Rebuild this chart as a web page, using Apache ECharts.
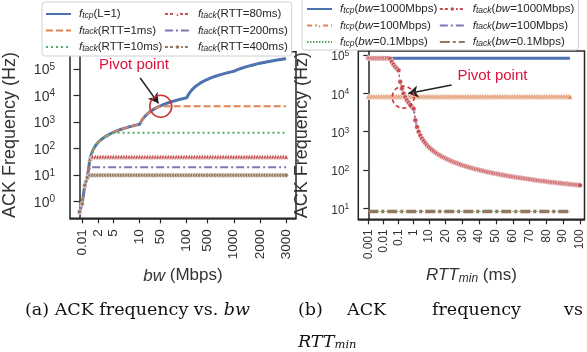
<!DOCTYPE html>
<html><head><meta charset="utf-8">
<script src="https://cdn.jsdelivr.net/npm/echarts@6/dist/echarts.min.js"></script>
<style>html,body{margin:0;padding:0;background:#fff}#c{width:587px;height:352px}</style>
</head><body><div id="c"></div>
<script>
// ---------- (a) ACK frequency vs bw ----------
const bwCats = [0.005,0.01,0.05,0.1,0.5,1,1.5,2,2.5,3,3.5,4,4.5,5,5.5,6,6.5,7,7.5,8,8.5,9,9.5,10,
  15,20,25,30,35,40,45,50,55,60,65,70,75,80,85,90,95,100,
  150,200,250,300,350,400,450,500,550,600,650,700,750,800,850,900,950,1000,
  1100,1200,1300,1400,1500,1600,1700,1800,1900,2000,2100,2200,2300,2400,2500,2600,2700,2800,2900,3000];
const bwTicks = [0.01,2,5,10,50,100,500,1000,2000,3000];
const tcpL1 = [0.42,0.83,4.2,8.3,42,83,125,167,208,250,292,333,375,417,458,500,542,583,625,667,708,750,792,833,
  1250,1667,2083,2500,2917,3333,3750,4167,4583,5000,5417,5833,6250,6667,7083,7500,7917,8333,
  12500,16667,20833,25000,29167,33333,37500,41667,45833,50000,54167,58333,62500,66667,70833,75000,79167,83333,
  91667,100000,108333,116667,125000,133333,141667,150000,158333,166667,175000,183333,191667,200000,208333,216667,225000,233333,241667,250000];
const tackRtt1 = [0.42,0.83,4.2,8.3,42,83,125,167,208,250,292,333,375,417,458,500,542,583,625,667,708,750,792,833,
  1250,1667,2083,2500,2917,3333,3750,4000,4000,4000,4000,4000,4000,4000,4000,4000,4000,4000,
  4000,4000,4000,4000,4000,4000,4000,4000,4000,4000,4000,4000,4000,4000,4000,4000,4000,4000,
  4000,4000,4000,4000,4000,4000,4000,4000,4000,4000,4000,4000,4000,4000,4000,4000,4000,4000,4000,4000];
const tackRtt10 = [0.42,0.83,4.2,8.3,42,83,125,167,208,250,292,333,375,400,400,400,400,400,400,400,400,400,400,400,
  400,400,400,400,400,400,400,400,400,400,400,400,400,400,400,400,400,400,
  400,400,400,400,400,400,400,400,400,400,400,400,400,400,400,400,400,400,
  400,400,400,400,400,400,400,400,400,400,400,400,400,400,400,400,400,400,400,400];
const tackRtt80 = [0.42,0.83,4.2,8.3,42,50,50,50,50,50,50,50,50,50,50,50,50,50,50,50,50,50,50,50,
  50,50,50,50,50,50,50,50,50,50,50,50,50,50,50,50,50,50,
  50,50,50,50,50,50,50,50,50,50,50,50,50,50,50,50,50,50,
  50,50,50,50,50,50,50,50,50,50,50,50,50,50,50,50,50,50,50,50];
const tackRtt200 = [0.42,0.83,4.2,8.3,20,20,20,20,20,20,20,20,20,20,20,20,20,20,20,20,20,20,20,20,
  20,20,20,20,20,20,20,20,20,20,20,20,20,20,20,20,20,20,
  20,20,20,20,20,20,20,20,20,20,20,20,20,20,20,20,20,20,
  20,20,20,20,20,20,20,20,20,20,20,20,20,20,20,20,20,20,20,20];
const tackRtt400 = [0.42,0.83,4.2,8.3,10,10,10,10,10,10,10,10,10,10,10,10,10,10,10,10,10,10,10,10,
  10,10,10,10,10,10,10,10,10,10,10,10,10,10,10,10,10,10,
  10,10,10,10,10,10,10,10,10,10,10,10,10,10,10,10,10,10,
  10,10,10,10,10,10,10,10,10,10,10,10,10,10,10,10,10,10,10,10];

// ---------- (b) ACK frequency vs RTT_min ----------
const rttCats = [0.001,0.002,0.003,0.004,0.005,0.006,0.007,0.008,0.009,
  0.01,0.02,0.03,0.04,0.05,0.06,0.07,0.08,0.09,
  0.1,0.2,0.3,0.4,0.5,0.6,0.7,0.8,0.9,
  1,2,3,4,5,6,7,8,9,
  10,11,12,13,14,15,16,17,18,19,20,21,22,23,24,25,26,27,28,29,30,31,32,33,34,35,36,37,38,39,
  40,41,42,43,44,45,46,47,48,49,50,51,52,53,54,55,56,57,58,59,60,61,62,63,64,65,66,67,68,69,
  70,71,72,73,74,75,76,77,78,79,80,81,82,83,84,85,86,87,88,89,90,91,92,93,94,95,96,97,98,99,100];
const rttTicks = [0.001,0.01,0.1,1,10,20,30,40,50,60,70,80,90,100];
const tcpBw1000 = [83333,83333,83333,83333,83333,83333,83333,83333,83333,83333,83333,83333,83333,83333,83333,83333,83333,83333,
  83333,83333,83333,83333,83333,83333,83333,83333,83333,83333,83333,83333,83333,83333,83333,83333,83333,83333,
  83333,83333,83333,83333,83333,83333,83333,83333,83333,83333,83333,83333,83333,83333,83333,83333,83333,83333,83333,83333,83333,83333,83333,83333,
  83333,83333,83333,83333,83333,83333,83333,83333,83333,83333,83333,83333,83333,83333,83333,83333,83333,83333,83333,83333,83333,83333,83333,83333,83333,83333,83333,83333,83333,83333,
  83333,83333,83333,83333,83333,83333,83333,83333,83333,83333,83333,83333,83333,83333,83333,83333,83333,83333,83333,83333,83333,83333,83333,83333,83333,83333,83333,83333,83333,83333,83333];
const tcpBw100 = [8333,8333,8333,8333,8333,8333,8333,8333,8333,8333,8333,8333,8333,8333,8333,8333,8333,8333,
  8333,8333,8333,8333,8333,8333,8333,8333,8333,8333,8333,8333,8333,8333,8333,8333,8333,8333,
  8333,8333,8333,8333,8333,8333,8333,8333,8333,8333,8333,8333,8333,8333,8333,8333,8333,8333,8333,8333,8333,8333,8333,8333,
  8333,8333,8333,8333,8333,8333,8333,8333,8333,8333,8333,8333,8333,8333,8333,8333,8333,8333,8333,8333,8333,8333,8333,8333,8333,8333,8333,8333,8333,8333,
  8333,8333,8333,8333,8333,8333,8333,8333,8333,8333,8333,8333,8333,8333,8333,8333,8333,8333,8333,8333,8333,8333,8333,8333,8333,8333,8333,8333,8333,8333,8333];
const tcpBw01 = [8.3,8.3,8.3,8.3,8.3,8.3,8.3,8.3,8.3,8.3,8.3,8.3,8.3,8.3,8.3,8.3,8.3,8.3,
  8.3,8.3,8.3,8.3,8.3,8.3,8.3,8.3,8.3,8.3,8.3,8.3,8.3,8.3,8.3,8.3,8.3,8.3,
  8.3,8.3,8.3,8.3,8.3,8.3,8.3,8.3,8.3,8.3,8.3,8.3,8.3,8.3,8.3,8.3,8.3,8.3,8.3,8.3,8.3,8.3,8.3,8.3,
  8.3,8.3,8.3,8.3,8.3,8.3,8.3,8.3,8.3,8.3,8.3,8.3,8.3,8.3,8.3,8.3,8.3,8.3,8.3,8.3,8.3,8.3,8.3,8.3,8.3,8.3,8.3,8.3,8.3,8.3,
  8.3,8.3,8.3,8.3,8.3,8.3,8.3,8.3,8.3,8.3,8.3,8.3,8.3,8.3,8.3,8.3,8.3,8.3,8.3,8.3,8.3,8.3,8.3,8.3,8.3,8.3,8.3,8.3,8.3,8.3,8.3];
const tackBw1000 = [83333,83333,83333,83333,83333,83333,83333,83333,83333,
  83333,83333,83333,83333,80000,66667,57143,50000,44444,
  40000,20000,13333,10000,8000,6667,5714,5000,4444,
  4000,2000,1333,1000,800,667,571,500,444,
  400,364,333,308,286,267,250,235,222,211,200,190,182,174,167,160,154,148,143,138,
  133,129,125,121,118,114,111,108,105,103,100,97.6,95.2,93,90.9,88.9,87,85.1,83.3,81.6,
  80,78.4,76.9,75.5,74.1,72.7,71.4,70.2,69,67.8,66.7,65.6,64.5,63.5,62.5,61.5,60.6,59.7,58.8,58,
  57.1,56.3,55.6,54.8,54.1,53.3,52.6,51.9,51.3,50.6,50,49.4,48.8,48.2,47.6,47.1,46.5,46,45.5,44.9,
  44.4,44,43.5,43,42.6,42.1,41.7,41.2,40.8,40.4,40];
const tackBw100 = [8333,8333,8333,8333,8333,8333,8333,8333,8333,
  8333,8333,8333,8333,8333,8333,8333,8333,8333,
  8333,8333,8333,8333,8000,6667,5714,5000,4444,
  4000,2000,1333,1000,800,667,571,500,444,
  400,364,333,308,286,267,250,235,222,211,200,190,182,174,167,160,154,148,143,138,
  133,129,125,121,118,114,111,108,105,103,100,97.6,95.2,93,90.9,88.9,87,85.1,83.3,81.6,
  80,78.4,76.9,75.5,74.1,72.7,71.4,70.2,69,67.8,66.7,65.6,64.5,63.5,62.5,61.5,60.6,59.7,58.8,58,
  57.1,56.3,55.6,54.8,54.1,53.3,52.6,51.9,51.3,50.6,50,49.4,48.8,48.2,47.6,47.1,46.5,46,45.5,44.9,
  44.4,44,43.5,43,42.6,42.1,41.7,41.2,40.8,40.4,40];
const tackBw01 = tcpBw01.slice();

const yTicksA = [1,10,100,1000,10000,100000];
const yTicksB = [10,100,1000,10000,100000];
const namesA = ['f_tcp(L=1)','f_tack(RTT=1ms)','f_tack(RTT=10ms)','f_tack(RTT=80ms)','f_tack(RTT=200ms)','f_tack(RTT=400ms)'];
const namesB = ['f_tcp(bw=1000Mbps)','f_tcp(bw=100Mbps)','f_tcp(bw=0.1Mbps)','f_tack(bw=1000Mbps)','f_tack(bw=100Mbps)','f_tack(bw=0.1Mbps)'];
const markersA = [false,false,false,true,false,true];
const markersB = [false,true,false,true,false,false];

// annotation anchors (data space: [category index, Hz])
const pivotA = {circle:[31.07,4000], text:[20.8,144000], from:[23.2,46400], to:[30.2,5150]};
const pivotB = {circle:[20.8,8000], text:[73.9,28300], from:[49.6,16500], to:[23.8,10000]};

// ---------- build ----------
const SANS = "'Liberation Sans', Arial, sans-serif";
const SERIF = "'DejaVu Serif', serif";
const INK = '#262626';
const C = {blue:'#4c72b0', orange:'#dd8452', green:'#55a868', red:'#c44e52', purple:'#8172b3', brown:'#937860'};
const pairs = a => a.map((v,i)=>[i,v]);

function legendFmt(name){
  const m = name.match(/^f_(\w+)\((.*)\)$/);
  let inner = m[2];
  let s = '{f|f}{s|' + m[1] + '}{n|(}';
  if (inner.indexOf('bw') === 0) s += '{i|bw}{n|' + inner.slice(2) + ')}';
  else s += '{n|' + inner + ')}';
  return s;
}
const legendRich = {
  f:{fontFamily:SANS, fontStyle:'italic', fontSize:11.5, lineHeight:12, verticalAlign:'top', padding:[0,0,0,3], color:INK},
  s:{fontFamily:SANS, fontStyle:'italic', fontSize:8.5, lineHeight:8, padding:[6,0,0,0], verticalAlign:'bottom', color:INK},
  n:{fontFamily:SANS, fontSize:11.5, lineHeight:12, verticalAlign:'top', color:INK},
  i:{fontFamily:SANS, fontStyle:'italic', fontSize:11.5, lineHeight:12, verticalAlign:'top', color:INK}
};
function supFmt(v){ return '{b|10}{e|' + Math.round(Math.log10(v)) + '}'; }

function markOf(p, dashed){
  return {
    markPoint:{silent:true, animation:false, data:[
      {coord:p.circle, symbol:'circle', symbolSize:22,
       itemStyle:{color:'rgba(0,0,0,0)', borderColor:'#c9353b', borderWidth:1.6, borderType: dashed?[4,3]:'solid'},
       label:{show:false}},
      {coord:p.text, symbol:'circle', symbolSize:1, itemStyle:{color:'rgba(0,0,0,0)'},
       label:{show:true, position:'inside', formatter:'Pivot point', color:'#dc143c', fontSize:15, fontFamily:SANS}}
    ]},
    markLine:{silent:true, animation:false, symbol:['none','arrow'], symbolSize:[9,10],
      lineStyle:{color:'#222', width:1.5, type:'solid'}, label:{show:false},
      data:[[{coord:p.from},{coord:p.to}]]}
  };
}

const chart = echarts.init(document.getElementById('c'), null, {renderer:'canvas'});
const xA = {
  type:'value', gridIndex:0, min:-3.64, max:82.8,
  axisLine:{show:true, lineStyle:{color:INK, width:1.5}},
  axisTick:{show:true, length:5, lineStyle:{color:INK, width:1.2}, customValues: bwTicks.map(v=>bwCats.indexOf(v))},
  axisLabel:{rotate:90, margin:11, fontSize:13.5, fontFamily:SANS, color:'#333',
    customValues: bwTicks.map(v=>bwCats.indexOf(v)), formatter: v => String(bwCats[Math.round(v)])},
  splitLine:{show:false},
  name:'{i|bw} (Mbps)', nameLocation:'middle', nameGap:49,
  nameTextStyle:{fontSize:17, fontFamily:SANS, color:'#333', rich:{i:{fontSize:17, fontFamily:SANS, fontStyle:'italic', color:'#333'}}}
};
const xB = {
  type:'value', gridIndex:1, min:-5.95, max:128.7,
  axisLine:{show:true, lineStyle:{color:INK, width:1.5}},
  axisTick:{show:true, length:5, lineStyle:{color:INK, width:1.2}, customValues: rttTicks.map(v=>rttCats.indexOf(v))},
  axisLabel:{rotate:90, margin:10, fontSize:12, fontFamily:SANS, color:'#333',
    customValues: rttTicks.map(v=>rttCats.indexOf(v)), formatter: v => String(rttCats[Math.round(v)])},
  splitLine:{show:false},
  name:'{i|RTT}{s|min} (ms)', nameLocation:'middle', nameGap:47,
  nameTextStyle:{fontSize:17, fontFamily:SANS, color:'#333', rich:{
    i:{fontSize:17, fontFamily:SANS, fontStyle:'italic', color:'#333', lineHeight:18, verticalAlign:'top'},
    s:{fontSize:12, fontFamily:SANS, fontStyle:'italic', color:'#333', lineHeight:12, padding:[8,0,0,0], verticalAlign:'bottom'}}}
};
function yAxis(idx, min, max, ticks, fs, es, pad, margin, gap, tickLen){
  return {
    type:'log', logBase:10, gridIndex:idx, min:min, max:max,
    axisLine:{show:true, lineStyle:{color:INK, width:1.5}},
    axisTick:{show:true, length:tickLen, lineStyle:{color:INK, width:1.2}, customValues:ticks},
    minorTick:{show:false}, splitLine:{show:false}, minorSplitLine:{show:false},
    axisLabel:{margin:margin, customValues:ticks, formatter:supFmt, rich:{
      b:{fontSize:fs, fontFamily:SANS, color:'#333', lineHeight:fs, padding:pad},
      e:{fontSize:es, fontFamily:SANS, color:'#333', lineHeight:es, verticalAlign:'top'}}},
    name:'ACK Frequency (Hz)', nameLocation:'middle', nameGap:gap,
    nameTextStyle:{fontSize:18, fontFamily:SANS, color:'#333'}
  };
}
function line(name, data, xi, color, width, type, symbol, size, extra){
  const s = {
    name:name, type:'line', xAxisIndex:xi, yAxisIndex:xi, data:pairs(data),
    lineStyle:{color:color, width:width, type:type},
    itemStyle:{color:color, borderColor:'#fff', borderWidth:0.6},
    symbol: symbol || 'none', symbolSize:size||0, showSymbol: !!symbol,
    animation:false, silent:true, z:2
  };
  return Object.assign(s, extra||{});
}
const HIDE = {color:'rgba(0,0,0,0)', borderColor:'rgba(0,0,0,0)', opacity:0};
const legendData = (names, marks) => names.map((n,i)=> marks[i] ? {name:n} : {name:n, itemStyle:HIDE});

const option = {
  animation:false,
  grid:[
    {left:67, top:51.7, width:229, height:166.6, show:true, borderColor:INK, borderWidth:1.5, backgroundColor:'transparent'},
    {left:358.3, top:51, width:226.2, height:168.3, show:true, borderColor:INK, borderWidth:1.5, backgroundColor:'transparent'}
  ],
  xAxis:[xA, xB],
  yAxis:[yAxis(0, 0.2365, 457000, yTicksA, 14, 10, [5,0,3,0], 15, 51, 6),
         yAxis(1, 5.16, 128000, yTicksB, 12, 8.5, [4,0,0,0], 9, 47, 5)],
  legend:[
    {left:42, top:2, orient:'vertical', height:50, itemGap:1.5, itemWidth:25, itemHeight:7,
     padding:[3,4,3,3], borderColor:'#d0d0d0', borderWidth:1, borderRadius:3, backgroundColor:'#fff',
     selectedMode:false, data:legendData(namesA, markersA), formatter:legendFmt, textStyle:{color:INK, rich:legendRich}},
    {left:302, top:-4, orient:'vertical', height:52, itemGap:1.5, itemWidth:25, itemHeight:7,
     padding:[4,4,2,4], borderColor:'#d0d0d0', borderWidth:1, borderRadius:3, backgroundColor:'#fff',
     selectedMode:false, data:legendData(namesB, markersB), formatter:legendFmt, textStyle:{color:INK, rich:legendRich}}
  ],
  series:[
    line(namesA[0], tcpL1, 0, C.blue, 3, 'solid', null, 0, markOf(pivotA, false)),
    line(namesA[1], tackRtt1, 0, C.orange, 2, [7,3]),
    line(namesA[2], tackRtt10, 0, C.green, 2, [2,3]),
    line(namesA[3], tackRtt80, 0, C.red, 1, [3,2], 'triangle', 5),
    line(namesA[4], tackRtt200, 0, C.purple, 2, [8,3,2,3]),
    line(namesA[5], tackRtt400, 0, C.brown, 1, [3,2], 'circle', 4.5),
    line(namesB[0], tcpBw1000, 1, C.blue, 3, 'solid', null, 0, markOf(pivotB, true)),
    line(namesB[1], tcpBw100, 1, C.orange, 1.5, [5,3], 'triangle', 5.5),
    line(namesB[2], tcpBw01, 1, C.green, 1, [1.5,1.5]),
    line(namesB[3], tackBw1000, 1, C.red, 1.2, [3,2], 'circle', 5),
    line(namesB[4], tackBw100, 1, C.purple, 2, [8,3,2,3]),
    line(namesB[5], tackBw01, 1, C.brown, 3.5, [10,3,3,3])
  ],
  graphic:[
    {type:'text', left:25, top:301, silent:true, style:{text:'(a) ACK frequency vs. {i|bw}', fill:'#111',
      font:"17.5px 'DejaVu Serif', serif", rich:{i:{fontStyle:'italic', fontSize:17.5, fontFamily:SERIF, fill:'#111'}}}},
    {type:'text', left:298, top:301, silent:true, style:{text:'(b)', fill:'#111', font:"17.5px 'DejaVu Serif', serif"}},
    {type:'text', left:347, top:301, silent:true, style:{text:'ACK', fill:'#111', font:"17.5px 'DejaVu Serif', serif"}},
    {type:'text', left:432, top:301, silent:true, style:{text:'frequency', fill:'#111', font:"17.5px 'DejaVu Serif', serif"}},
    {type:'text', left:564, top:301, silent:true, style:{text:'vs', fill:'#111', font:"17.5px 'DejaVu Serif', serif"}},
    {type:'text', left:298, top:330, silent:true, style:{text:'{i|RTT}{s|min}', fill:'#111',
      rich:{i:{fontStyle:'italic', fontSize:17.5, fontFamily:SERIF, fill:'#111', lineHeight:18, verticalAlign:'top'},
            s:{fontStyle:'italic', fontSize:11.5, fontFamily:SERIF, fill:'#111', lineHeight:11, padding:[9,0,0,0], verticalAlign:'bottom'}}}}
  ]
};
chart.setOption(option);
</script></body></html>
